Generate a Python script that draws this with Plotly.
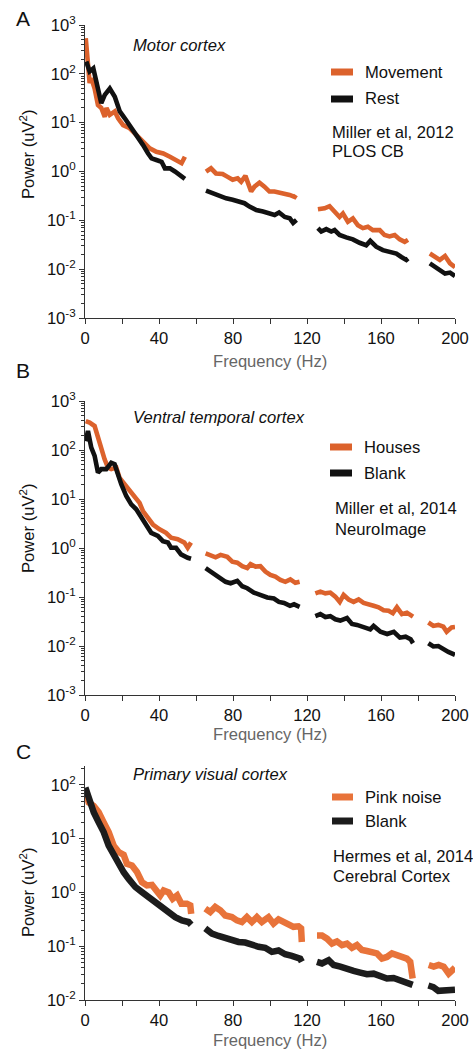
import plotly.graph_objects as go

# ---------------- data (frequency in Hz, power in uV^2; None = notch gap) ----------------
A_move_f = [0.4, 1.6, 2.5, 3.4, 5.2, 7.0, 8.8, 10.7, 11.6, 13.4, 16.1, 17.9, 20.6, 24.2, 27.8, 31.4, 35.0, 38.6, 42.3, 45.9, 49.5, 52.2, 54.0, None,
            65.4, 68.1, 70.8, 74.4, 77.1, 79.8, 82.5, 84.4, 86.7, 89.8, 91.6, 94.3, 97.0, 99.7, 102.4, 105.1, 107.8, 110.6, 113.3, 114.0, None,
            125.9, 129.5, 132.2, 134.9, 137.6, 139.4, 142.1, 144.8, 147.5, 150.2, 152.9, 155.6, 159.3, 161.9, 164.6, 167.4, 170.1, 172.8, 174.6, None,
            186.4, 189.1, 191.8, 194.6, 197.3, 200.0]
A_move_p = [537, 209, 64.6, 81.3, 50.1, 22.9, 20.0, 13.2, 20.0, 14.5, 17.0, 12.3, 8.91, 7.67, 5.62, 4.07, 2.99, 2.54, 2.34, 2.0, 1.72, 1.48, 2.0, None,
            0.99, 1.16, 0.912, 0.891, 0.776, 0.676, 0.724, 0.617, 0.813, 0.389, 0.490, 0.589, 0.490, 0.389, 0.389, 0.372, 0.355, 0.331, 0.302, 0.331, None,
            0.168, 0.176, 0.195, 0.151, 0.117, 0.138, 0.0933, 0.110, 0.0794, 0.0692, 0.0741, 0.0631, 0.0631, 0.0501, 0.0468, 0.0501, 0.0407, 0.0363, 0.0398, None,
            0.0209, 0.0178, 0.0155, 0.0186, 0.0132, 0.011]

A_rest_f = [0.7, 2.5, 4.5, 6.1, 8.8, 10.7, 13.4, 16.1, 18.8, 21.5, 24.2, 27.8, 31.4, 34.1, 36.0, 38.6, 41.4, 43.2, 45.9, 48.6, 51.3, 54.0, None,
            65.4, 69.0, 72.6, 76.3, 79.8, 83.5, 86.2, 88.9, 92.6, 96.2, 99.8, 102.5, 104.9, 108.0, 110.7, 112.5, 114.3, None,
            125.9, 127.7, 130.4, 133.1, 134.9, 137.6, 141.2, 144.8, 148.4, 152.0, 154.2, 157.4, 161.0, 164.6, 168.3, 171.0, 173.7, 174.6, None,
            186.4, 189.1, 191.8, 194.6, 197.3, 200.0]
A_rest_p = [178, 112, 129, 69.2, 25.1, 37.2, 50.1, 33.9, 17.0, 12.3, 8.91, 5.62, 3.47, 2.34, 1.86, 1.72, 1.58, 1.16, 1.16, 1.0, 0.851, 0.708, None,
            0.407, 0.355, 0.316, 0.282, 0.263, 0.240, 0.224, 0.191, 0.162, 0.151, 0.138, 0.129, 0.145, 0.117, 0.110, 0.0891, 0.102, None,
            0.0692, 0.0589, 0.0661, 0.0589, 0.0631, 0.0501, 0.0447, 0.0407, 0.0347, 0.0309, 0.0380, 0.0288, 0.0245, 0.0229, 0.0209, 0.0178, 0.0155, 0.0166, None,
            0.0132, 0.0112, 0.00933, 0.00813, 0.00851, 0.00724]

B_house_f = [0.4, 2.5, 5.2, 7.0, 8.8, 10.6, 12.4, 14.2, 16.9, 18.7, 21.4, 24.1, 26.8, 29.5, 31.3, 34.0, 36.7, 40.3, 43.8, 46.5, 50.1, 53.7, 55.5, 57.3, None,
             65.2, 67.9, 70.6, 73.3, 76.9, 79.6, 82.3, 85.0, 87.7, 89.5, 92.2, 94.8, 97.5, 100.2, 102.9, 105.6, 108.3, 111.0, 113.7, 116.0, None,
             124.5, 127.2, 129.9, 132.6, 135.3, 137.7, 139.8, 142.5, 145.2, 147.9, 150.6, 153.3, 156.0, 158.7, 161.4, 164.1, 166.4, 168.6, 171.3, 174.0, 177.3, None,
             185.6, 188.3, 191.0, 193.7, 195.5, 198.2, 200.0]
B_house_p = [389, 363, 309, 178, 95.5, 64.6, 43.7, 40.7, 43.7, 26.9, 20.0, 14.5, 10.7, 8.32, 5.69, 4.17, 3.02, 2.40, 2.04, 1.62, 1.51, 1.29, 1.01, 1.29, None,
             0.776, 0.724, 0.646, 0.724, 0.661, 0.525, 0.501, 0.427, 0.389, 0.468, 0.417, 0.427, 0.331, 0.282, 0.260, 0.224, 0.204, 0.229, 0.195, 0.204, None,
             0.119, 0.129, 0.119, 0.123, 0.102, 0.0794, 0.110, 0.0891, 0.0794, 0.0891, 0.0759, 0.0724, 0.0661, 0.0617, 0.0537, 0.0525, 0.0468, 0.0617, 0.0447, 0.0479, 0.0398, None,
             0.0302, 0.0257, 0.0269, 0.0248, 0.0195, 0.0240, 0.0245]

B_blank_f = [0.4, 1.6, 3.4, 5.2, 7.0, 8.8, 11.5, 14.2, 16.0, 17.8, 19.6, 22.3, 25.0, 27.7, 30.4, 33.0, 35.8, 39.4, 42.1, 44.8, 46.5, 49.2, 51.9, 55.5, 57.3, None,
             65.2, 67.9, 70.6, 73.3, 76.0, 78.7, 82.3, 85.0, 87.7, 91.3, 94.8, 98.5, 102.1, 104.8, 107.6, 110.8, 113.0, 116.0, None,
             124.5, 127.2, 129.9, 132.6, 135.3, 138.0, 141.6, 144.3, 147.0, 150.6, 154.2, 156.0, 159.7, 163.3, 166.9, 170.2, 173.3, 176.0, 177.3, None,
             185.6, 188.3, 191.0, 193.7, 196.4, 200.0]
B_blank_p = [151, 245, 112, 75.9, 34.7, 40.7, 40.7, 55.0, 51.3, 31.6, 20.0, 11.5, 7.76, 6.17, 4.17, 2.82, 2.04, 1.76, 1.38, 1.29, 1.01, 1.01, 0.741, 0.631, 0.603, None,
             0.389, 0.331, 0.295, 0.251, 0.204, 0.191, 0.214, 0.166, 0.151, 0.123, 0.110, 0.0977, 0.0933, 0.0794, 0.0759, 0.0661, 0.0708, 0.0631, None,
             0.0407, 0.0447, 0.0389, 0.0407, 0.0351, 0.0331, 0.0372, 0.0282, 0.0269, 0.0240, 0.0219, 0.0257, 0.0195, 0.0176, 0.0195, 0.0148, 0.0155, 0.0138, 0.0114, None,
             0.0114, 0.00977, 0.0100, 0.00851, 0.00759, 0.00661]

C_pink_f = [0.2, 2.0, 4.7, 7.4, 10.1, 12.8, 15.5, 18.2, 20.9, 22.7, 25.4, 28.1, 30.8, 33.5, 36.2, 38.9, 40.7, 42.5, 45.2, 47.4, 49.8, 52.1, 55.1, 56.9, 57.4, None,
            65.0, 67.7, 70.4, 73.1, 75.8, 79.4, 82.1, 84.8, 87.5, 90.2, 92.9, 95.6, 99.2, 101.9, 104.6, 107.3, 110.0, 112.7, 115.4, 116.8, 117.2, None,
            125.4, 128.1, 130.8, 133.5, 136.2, 138.9, 141.6, 144.3, 147.0, 149.7, 152.4, 155.1, 157.8, 160.5, 163.2, 165.9, 168.6, 171.3, 174.0, 175.8, 177.1, None,
            185.8, 188.5, 191.2, 193.9, 196.6, 199.3, 200.0]
C_pink_p = [83.2, 46.8, 40.7, 30.9, 20.0, 13.2, 7.41, 5.62, 5.01, 3.39, 3.16, 2.40, 1.55, 1.35, 1.38, 1.09, 0.879, 1.09, 1.0, 0.759, 0.879, 0.617, 0.617, 0.575, 0.398, None,
            0.501, 0.432, 0.537, 0.468, 0.372, 0.347, 0.302, 0.282, 0.347, 0.282, 0.347, 0.282, 0.347, 0.263, 0.316, 0.282, 0.245, 0.229, 0.234, 0.214, 0.120, None,
            0.158, 0.158, 0.138, 0.112, 0.123, 0.105, 0.112, 0.0933, 0.105, 0.0851, 0.0813, 0.0785, 0.0733, 0.0589, 0.0631, 0.0733, 0.0676, 0.0631, 0.0589, 0.0513, 0.0251, None,
            0.0447, 0.0417, 0.0447, 0.0417, 0.0309, 0.0389, 0.0398]

C_blank_f = [0.2, 2.0, 4.7, 7.4, 10.1, 12.8, 15.5, 18.2, 20.9, 23.6, 27.2, 30.8, 34.4, 38.0, 41.6, 45.2, 48.8, 52.4, 56.0, 57.4, None,
             65.0, 68.6, 72.2, 75.8, 79.4, 83.0, 86.6, 90.2, 93.8, 97.4, 101.0, 104.6, 108.2, 111.8, 116.3, 117.2, None,
             125.4, 128.1, 131.7, 134.4, 138.0, 141.6, 145.2, 148.8, 152.4, 156.0, 159.6, 163.2, 166.8, 170.4, 174.0, 176.7, 177.1, None,
             185.6, 188.3, 191.0, 193.7, 196.4, 200.0]
C_blank_p = [89.1, 53.7, 30.9, 20.0, 13.2, 7.41, 4.84, 3.16, 2.37, 1.78, 1.26, 1.01, 0.818, 0.617, 0.501, 0.407, 0.347, 0.302, 0.282, 0.251, None,
             0.214, 0.172, 0.155, 0.141, 0.138, 0.120, 0.117, 0.105, 0.0977, 0.0933, 0.0785, 0.0832, 0.0708, 0.0661, 0.0589, 0.0513, None,
             0.0513, 0.0479, 0.0550, 0.0447, 0.0417, 0.0372, 0.0347, 0.0324, 0.0302, 0.0309, 0.0269, 0.0251, 0.0257, 0.0234, 0.0219, 0.0204, 0.0191, None,
             0.0186, 0.0174, 0.0148, 0.0151, 0.0151, 0.0155]

x_ticks = [0, 40, 80, 120, 160, 200]
y_ticks_AB = [1e-3, 1e-2, 1e-1, 1e0, 1e1, 1e2, 1e3]
y_text_AB = ["10<sup>-3</sup>", "10<sup>-2</sup>", "10<sup>-1</sup>", "10<sup>0</sup>", "10<sup>1</sup>", "10<sup>2</sup>", "10<sup>3</sup>"]
y_ticks_C = [1e-2, 1e-1, 1e0, 1e1, 1e2]
y_text_C = ["10<sup>-2</sup>", "10<sup>-1</sup>", "10<sup>0</sup>", "10<sup>1</sup>", "10<sup>2</sup>"]

panel_letters = ["A", "B", "C"]
panel_titles = ["Motor cortex", "Ventral temporal cortex", "Primary visual cortex"]
legend_names = [["Movement", "Rest"], ["Houses", "Blank"], ["Pink noise", "Blank"]]
citations = [["Miller et al, 2012", "PLOS CB"], ["Miller et al, 2014", "NeuroImage"], ["Hermes et al, 2014", "Cerebral Cortex"]]

# ---------------- styling ----------------
W, H = 473, 1051
ORANGE_AB = "#DC622C"
ORANGE_C = "#E8733A"
BLACK = "#111111"
AXC = "#333333"
FONT = "Liberation Sans, Arial, Helvetica, sans-serif"
FS = 16.6


def px(x):
    return x / W


def py(y):
    return 1 - y / H


fig = go.Figure()

series = [
    (A_move_f, A_move_p, ORANGE_AB, 4.6, "x", "y"),
    (A_rest_f, A_rest_p, BLACK, 4.6, "x", "y"),
    (B_house_f, B_house_p, ORANGE_AB, 4.6, "x2", "y2"),
    (B_blank_f, B_blank_p, BLACK, 4.6, "x2", "y2"),
    (C_pink_f, C_pink_p, ORANGE_C, 6.5, "x3", "y3"),
    (C_blank_f, C_blank_p, "#1c1c1c", 6.5, "x3", "y3"),
]
for f, p, col, w, xa, ya in series:
    fig.add_trace(go.Scatter(x=f, y=p, mode="lines", line=dict(color=col, width=w),
                             xaxis=xa, yaxis=ya, showlegend=False, hoverinfo="skip"))

# panel geometry in pixels: (top, bottom, log range)
panels = [
    (25, 318, [-3, 3]),
    (401, 695, [-3, 3]),
    (766, 1000, [-2, 2.35]),
]
x_dom = [px(85), px(455)]

minor_y = [m * 10 ** k for k in range(-3, 3) for m in range(2, 10)]

layout = dict(width=W, height=H, margin=dict(l=0, r=0, t=0, b=0),
              paper_bgcolor="white", plot_bgcolor="white",
              font=dict(family=FONT, size=FS, color="#111"))

for i, (top, bot, rng) in enumerate(panels):
    sfx = "" if i == 0 else str(i + 1)
    layout["xaxis" + sfx] = dict(
        domain=x_dom, range=[0, 200], anchor="y" + sfx,
        tickmode="array", tickvals=x_ticks, ticktext=[str(v) for v in x_ticks],
        ticks="outside", ticklen=5, tickwidth=1, tickcolor=AXC,
        minor=dict(tickvals=[20, 60, 100, 140, 180], ticks="outside", ticklen=5, tickwidth=1, tickcolor=AXC),
        showline=True, linecolor=AXC, linewidth=1, showgrid=False, zeroline=False,
        tickfont=dict(size=FS, color="#111", family=FONT), automargin=False)
    yt = y_ticks_C if i == 2 else y_ticks_AB
    ytt = y_text_C if i == 2 else y_text_AB
    layout["yaxis" + sfx] = dict(
        domain=[py(bot), py(top)], type="log", range=rng, anchor="x" + sfx,
        tickmode="array", tickvals=yt, ticktext=ytt,
        ticks="outside", ticklen=5, tickwidth=1, tickcolor=AXC,
        minor=dict(tickvals=minor_y, ticks="outside", ticklen=3, tickwidth=1, tickcolor=AXC),
        showline=True, linecolor=AXC, linewidth=1, showgrid=False, zeroline=False,
        tickfont=dict(size=FS, color="#111", family=FONT), automargin=False)

fig.update_layout(**layout)

ann = []
shapes = []


def text(x, y, s, size=FS, color="#111", xanchor="left", angle=0):
    ann.append(dict(x=px(x), y=py(y), xref="paper", yref="paper", text=s, showarrow=False,
                    xanchor=xanchor, yanchor="middle", textangle=angle,
                    font=dict(size=size, color=color, family=FONT)))


# panel letters
for L, yy in zip(panel_letters, [19, 371, 751]):
    text(14, yy, L, size=21)

# italic panel titles
for t, yy in zip(panel_titles, [45, 417, 774]):
    text(131, yy, "<i>" + t + "</i>")

# axis titles
for yy in [155, 529, 893]:
    text(27, yy, "Power (uV<sup>2</sup>)", xanchor="center", angle=-90)
for yy in [361, 735, 1040]:
    text(270, yy, "Frequency (Hz)", color="#666666", xanchor="center")

# legends + citations
leg_geo = [
    # (swatch x0, x1, y orange, y black, text x, cite x, cite y1, cite y2, colours)
    (331, 353, 72, 99, 363, 330, 132, 152, ORANGE_AB, BLACK),
    (330, 352, 447, 473, 362, 333, 509, 529, ORANGE_AB, BLACK),
    (332, 353, 797, 821, 363, 331, 856, 876, ORANGE_C, "#1c1c1c"),
]
for (x0, x1, yo, yb, tx, cx, cy1, cy2, oc, bc), names, cites in zip(leg_geo, legend_names, citations):
    for yy, col in [(yo, oc), (yb, bc)]:
        shapes.append(dict(type="rect", xref="paper", yref="paper",
                           x0=px(x0), x1=px(x1), y0=py(yy + 3.5), y1=py(yy - 3.5),
                           fillcolor=col, line=dict(width=0)))
    text(tx, yo, names[0])
    text(tx, yb, names[1])
    text(cx, cy1, cites[0])
    text(cx, cy2, cites[1])

fig.update_layout(annotations=ann, shapes=shapes)
fig.write_html("out.html")
